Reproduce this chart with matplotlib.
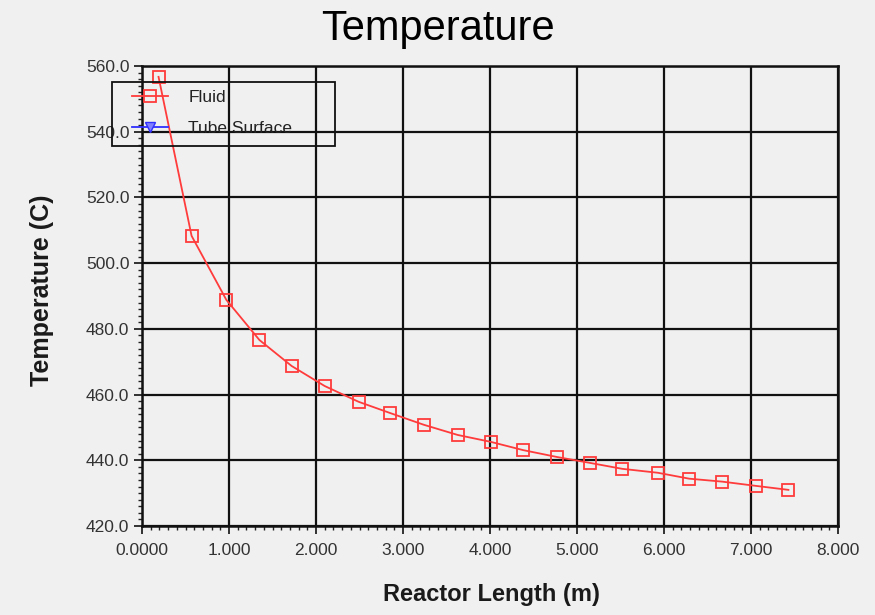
import matplotlib.pyplot as plt
from matplotlib.ticker import MultipleLocator, FixedFormatter, FixedLocator
from matplotlib.patches import Rectangle

plt.rcParams['font.family'] = ['Liberation Sans', 'DejaVu Sans']

# Fluid temperature along the reactor
length = [0.19, 0.57, 0.97, 1.35, 1.72, 2.10, 2.49, 2.85, 3.24, 3.63,
          4.01, 4.38, 4.77, 5.15, 5.52, 5.93, 6.29, 6.67, 7.06, 7.43]
fluid = [556.7, 508.3, 488.8, 476.6, 468.7, 462.6, 457.8, 454.4, 450.8, 447.7,
         445.6, 443.1, 441.0, 439.2, 437.4, 436.2, 434.4, 433.5, 432.2, 431.0]
# Tube surface series has no visible points in the picture
tube_length = []
tube_surface = []

x_ticks = [0, 1, 2, 3, 4, 5, 6, 7, 8]
x_labels = ["0.0000", "1.000", "2.000", "3.000", "4.000", "5.000", "6.000", "7.000", "8.000"]
y_ticks = [420, 440, 460, 480, 500, 520, 540, 560]
y_labels = ["420.0", "440.0", "460.0", "480.0", "500.0", "520.0", "540.0", "560.0"]

W, H = 875, 615
bg = "#f0f0f0"
fig = plt.figure(figsize=(W / 100, H / 100), dpi=100, facecolor=bg)
ax = fig.add_axes([142 / W, 1 - 526 / H, (838 - 142) / W, (526 - 66) / H], facecolor=bg)

ax.plot(length, fluid, color="#ff3b3b", linewidth=1.3, marker="s", markersize=9,
        markerfacecolor="none", markeredgecolor="#ff3b3b", markeredgewidth=1.3,
        label="Fluid")
ax.plot(tube_length, tube_surface, color="#3030ff", linewidth=1.3, marker="v",
        markersize=7, markerfacecolor="#8080ff", markeredgecolor="#3030ff",
        label="Tube Surface")

ax.set_xlim(0, 8)
ax.set_ylim(420, 560)
ax.xaxis.set_major_locator(FixedLocator(x_ticks))
ax.xaxis.set_major_formatter(FixedFormatter(x_labels))
ax.yaxis.set_major_locator(FixedLocator(y_ticks))
ax.yaxis.set_major_formatter(FixedFormatter(y_labels))
ax.xaxis.set_minor_locator(MultipleLocator(0.1))
ax.yaxis.set_minor_locator(MultipleLocator(2))

ax.tick_params(which="major", direction="out", length=6, width=1.3,
               labelsize=12.5, colors="#222222", labelcolor="#333333", pad=3)
ax.tick_params(which="minor", direction="out", length=3, width=1.0, colors="#222222")
ax.tick_params(axis="x", pad=6)

ax.grid(True, which="major", color="#111111", linewidth=1.6)
for s in ax.spines.values():
    s.set_linewidth(1.8)
    s.set_color("#111111")

fig.text(0.5, 1 - 29 / H, "Temperature", fontsize=30, ha="center", va="center")
fig.text(491 / W, 1 - 595 / H, "Reactor Length (m)", fontsize=17, fontweight="bold",
         ha="center", va="center", color="#1a1a1a")
fig.text(42 / W, 1 - 290 / H, "Temperature (C)", fontsize=18, fontweight="bold",
         ha="center", va="center", rotation=90, color="#1a1a1a")

# legend box drawn as a plain rectangle, entries placed inside it
fig.patches.append(Rectangle((112 / W, 1 - 146 / H), (335 - 112) / W, (146 - 82) / H,
                             transform=fig.transFigure, facecolor="none",
                             edgecolor="#111111", linewidth=1.3, zorder=6))
leg = ax.legend(loc="upper left", bbox_to_anchor=(132 / W, 1 - 90 / H),
                bbox_transform=fig.transFigure, fontsize=12.5, frameon=False,
                handlelength=2.1, borderpad=0, labelspacing=0.88,
                handletextpad=1.15, borderaxespad=0)
leg.set_zorder(5)
for t in leg.get_texts():
    t.set_color("#222222")

fig.savefig("out.png", dpi=100, facecolor=bg)
